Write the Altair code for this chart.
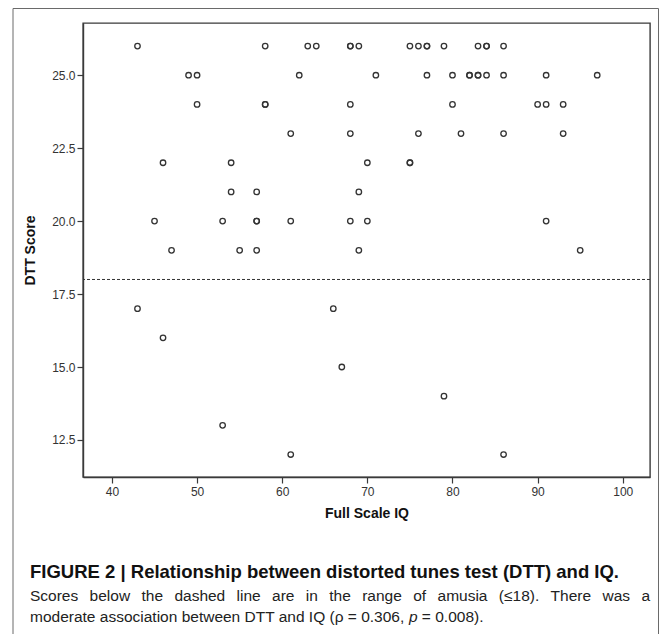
import altair as alt
import pandas as pd

full_scale_iq = [
    43, 58, 63, 64, 68, 68, 69, 75, 76, 77, 77, 79, 83, 84, 84, 86,
    49, 50, 62, 71, 77, 80, 82, 82, 83, 83, 84, 86, 91, 97,
    50, 58, 58, 68, 80, 90, 91, 93,
    61, 68, 76, 81, 86, 93,
    46, 54, 70, 75, 75,
    54, 57, 69,
    45, 53, 57, 57, 61, 68, 70, 91,
    47, 55, 57, 69, 95,
    43, 66,
    46,
    67,
    79,
    53,
    61, 86,
]
dtt_score = (
    [26] * 16 + [25] * 14 + [24] * 8 + [23] * 6 + [22] * 5 + [21] * 3
    + [20] * 8 + [19] * 5 + [17] * 2 + [16] + [15] + [14] + [13] + [12] * 2
)
amusia_cutoff = [18]

x_ticks = [40, 50, 60, 70, 80, 90, 100]
y_ticks = [12.5, 15.0, 17.5, 20.0, 22.5, 25.0]

caption_title = "FIGURE 2 | Relationship between distorted tunes test (DTT) and IQ."
caption_line1 = "Scores below the dashed line are in the range of amusia (\u226418). There was a"
caption_line2_a = "moderate association between DTT and IQ (\u03c1 = 0.306, "
caption_line2_p = "p"
caption_line2_b = "= 0.008)."

df = pd.DataFrame({"iq": full_scale_iq, "dtt": dtt_score})
cut = pd.DataFrame({"v": amusia_cutoff})
one = pd.DataFrame({"a": [0]})

AX = "#3a3a3a"
FONT = "Liberation Sans"
BODY = 15.5
TEXT_LEFT = -53          # caption left edge, relative to the plot area
TEXT_WIDTH = 620         # justified column width

# Arial / Liberation Sans advance widths (per 1000 em) used to justify caption line 1
W = {"S": 667, "c": 500, "o": 556, "r": 333, "e": 556, "s": 500, "b": 556, "l": 222,
     "w": 722, "t": 278, "h": 556, "d": 556, "a": 556, "n": 556, "i": 222, "g": 556,
     "f": 278, "u": 556, "m": 833, "(": 333, "\u2264": 549, "1": 556, "8": 556,
     ")": 333, ".": 278, "T": 611, "y": 500, "0": 556, "3": 556, "6": 556, ",": 278,
     " ": 278, "=": 584, "\u03c1": 575, "D": 722, "I": 278, "Q": 778, "p": 556}


def text_w(s):
    return sum(W.get(ch, 556) for ch in s) * BODY / 1000.0


words = caption_line1.split(" ")
widths = [text_w(w) for w in words]
gap = (TEXT_WIDTH - sum(widths)) / (len(words) - 1)
xs, pos = [], TEXT_LEFT
for w in widths:
    xs.append(pos)
    pos += w + gap
line1_df = pd.DataFrame({"word": words, "px": xs})

xscale = alt.Scale(domain=[36.6, 103.2], nice=False, zero=False)
yscale = alt.Scale(domain=[11.23, 26.79], nice=False, zero=False)

points = alt.Chart(df).mark_point(
    shape="circle", filled=False, size=30, strokeWidth=1.3, color="#333333", opacity=1
).encode(
    x=alt.X("iq:Q", scale=xscale, title="Full Scale IQ",
            axis=alt.Axis(values=x_ticks, format="d", titlePadding=9, labelPadding=3)),
    y=alt.Y("dtt:Q", scale=yscale, title="DTT Score",
            axis=alt.Axis(values=y_ticks, format=".1f", titlePadding=14, labelPadding=2)),
)

rule = alt.Chart(cut).mark_rule(color="#333333", strokeWidth=1, strokeDash=[3, 2]).encode(
    y=alt.Y("v:Q", scale=yscale)
)

FR = "#6a6a6a"
frame_l = alt.Chart(one).mark_rule(color=FR, strokeWidth=1).encode(
    x=alt.value(-70), y=alt.value(-14.5), y2=alt.value(611))
frame_r = alt.Chart(one).mark_rule(color=FR, strokeWidth=1).encode(
    x=alt.value(575.5), y=alt.value(-14.5), y2=alt.value(611))
frame_t = alt.Chart(one).mark_rule(color=FR, strokeWidth=1).encode(
    x=alt.value(-70), x2=alt.value(575.5), y=alt.value(-14.5))

cap_t = alt.Chart(one).mark_text(
    align="left", baseline="alphabetic", font=FONT, fontWeight="bold", fontSize=18.5, color="#111111"
).encode(x=alt.value(TEXT_LEFT), y=alt.value(555), text=alt.value(caption_title))

cap_1 = alt.Chart(line1_df).mark_text(
    align="left", baseline="alphabetic", font=FONT, fontSize=BODY, color="#222222"
).encode(x=alt.X("px:Q", scale=None), y=alt.value(578), text="word:N")

x_p = TEXT_LEFT + text_w(caption_line2_a)
x_b = x_p + text_w("p ")
cap_2a = alt.Chart(one).mark_text(
    align="left", baseline="alphabetic", font=FONT, fontSize=BODY, color="#222222"
).encode(x=alt.value(TEXT_LEFT), y=alt.value(599), text=alt.value(caption_line2_a))
cap_2p = alt.Chart(one).mark_text(
    align="left", baseline="alphabetic", font=FONT, fontSize=BODY, fontStyle="italic", color="#222222"
).encode(x=alt.value(x_p), y=alt.value(599), text=alt.value(caption_line2_p))
cap_2b = alt.Chart(one).mark_text(
    align="left", baseline="alphabetic", font=FONT, fontSize=BODY, color="#222222"
).encode(x=alt.value(x_b), y=alt.value(599), text=alt.value(caption_line2_b))

chart = alt.layer(
    points, rule, frame_l, frame_r, frame_t, cap_t, cap_1, cap_2a, cap_2p, cap_2b
).properties(
    width=567, height=454,
    autosize=alt.AutoSizeParams(type="none"),
    padding={"left": 75, "top": 15, "right": 9, "bottom": 157},
    background="white",
).configure_view(
    stroke=AX, strokeWidth=1.4
).configure_axis(
    grid=False, domainColor=AX, domainWidth=1.4, tickColor=AX, tickWidth=1.2, tickSize=6,
    labelFont=FONT, labelFontSize=12, labelColor="#333333",
    titleFont=FONT, titleFontSize=14, titleFontWeight="bold", titleColor="#111111",
)

chart.save("out.html", embed_options={"renderer": "svg", "actions": False})
